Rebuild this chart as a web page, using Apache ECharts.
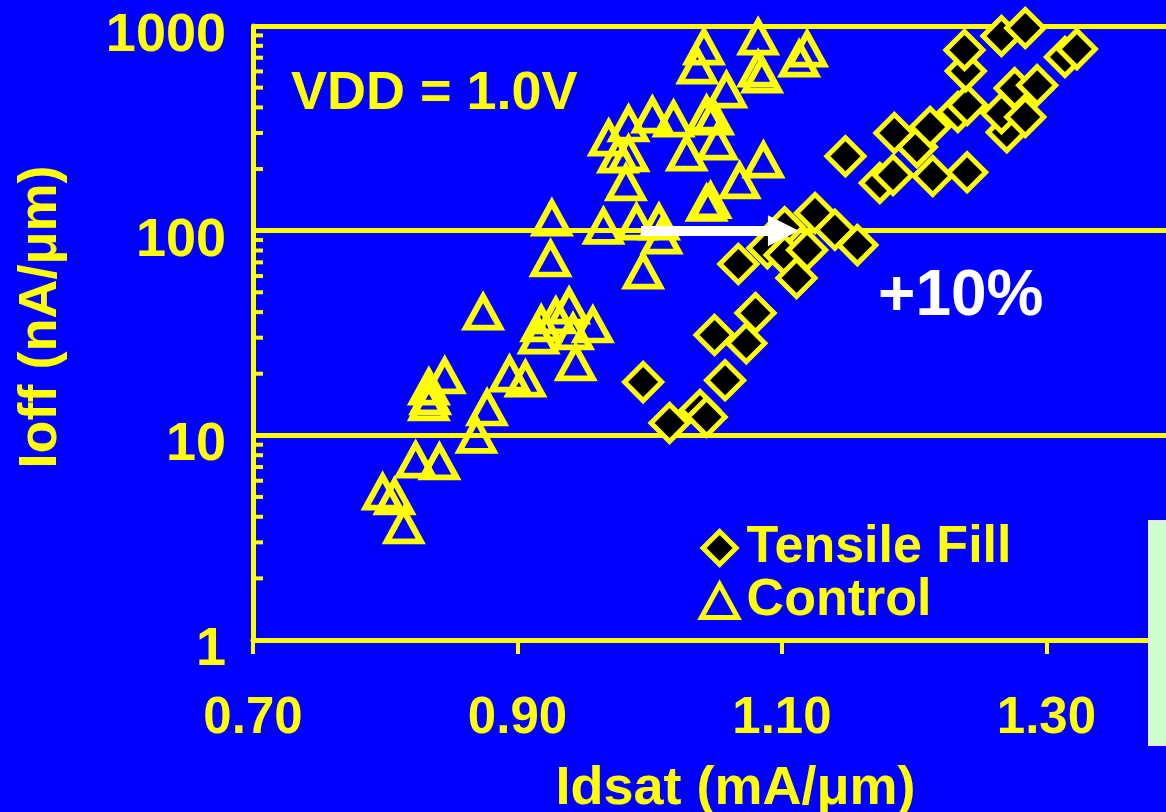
<!DOCTYPE html>
<html>
<head>
<meta charset="utf-8">
<script src="https://cdn.jsdelivr.net/npm/echarts@6/dist/echarts.min.js"></script>
<style>
  html, body { margin: 0; padding: 0; background: #0000ff; }
  #chart { width: 1166px; height: 812px; }
</style>
</head>
<body>
<div id="chart"></div>
<script>
// Tensile Fill (diamonds) - Idsat (mA/um), Ioff (nA/um)
var tensileX = [0.995, 1.015, 1.038, 1.043, 1.057, 1.049, 1.073, 1.080, 1.067, 1.089,
                1.102, 1.102, 1.119, 1.111, 1.125, 1.140, 1.157, 1.148, 1.174, 1.184,
                1.202, 1.185, 1.212, 1.214, 1.240, 1.233, 1.240, 1.270, 1.266, 1.284,
                1.276, 1.293, 1.239, 1.238, 1.266, 1.284, 1.314, 1.323];
var tensileY = [18.2, 11.5, 13.3, 12.3, 18.6, 30.9, 28.2, 39.6, 68.7, 82.2,
                104, 76, 80.4, 58.7, 122, 101, 85, 231, 171, 187,
                256, 300, 321, 185, 193, 380, 411, 303, 375, 359,
                497, 514, 602, 763, 893, 977, 705, 771];

// Control (triangles)
var controlX = [0.874, 0.944, 0.894, 0.906, 0.845, 0.833, 0.834, 0.833, 0.877, 0.869,
                0.823, 0.841, 0.798, 0.807, 0.814, 0.939, 0.929, 0.918, 0.957, 0.916,
                0.942, 1.041, 1.082, 1.119, 1.113, 1.082, 1.085, 1.036, 1.058, 0.969,
                0.984, 1.002, 1.018, 1.048, 1.043, 0.976, 0.984, 1.028, 1.051, 1.086,
                0.982, 1.068, 1.046, 1.043, 0.926, 0.965, 0.990, 1.007, 1.009, 0.925,
                0.995];
var controlY = [40.0, 22.6, 19.9, 18.8, 19.5, 17.2, 15.4, 14.4, 13.6, 10.0,
                7.57, 7.41, 5.28, 5.00, 3.61, 42.8, 38.3, 35.0, 34.6, 30.5,
                32.0, 789, 883, 771, 689, 616, 576, 637, 486, 283,
                332, 367, 351, 359, 371, 234, 237, 239, 271, 221,
                171, 175, 140, 136, 115, 105, 110, 110, 94, 72.7,
                63.5];

var xTicks = [0.70, 0.90, 1.10, 1.30];
var yMinorTicks = [2, 3, 4, 5, 6, 7, 8, 9, 20, 30, 40, 50, 60, 70, 80, 90, 200, 300, 400, 500, 600, 700, 800, 900];
var arrowFrom = [0.9934, 100];
var arrowTo = [1.1011, 100];

var YELLOW = '#ffff00';
var FONT = '"Liberation Sans", Arial, sans-serif';

function zip(xs, ys) {
  var out = [];
  for (var i = 0; i < xs.length; i++) out.push([xs[i], ys[i]]);
  return out;
}

var chart = echarts.init(document.getElementById('chart'));
chart.setOption({
  backgroundColor: '#0000ff',
  animation: false,
  textStyle: { fontFamily: FONT },
  // plot runs off the right edge of the picture
  grid: { left: 253, top: 26, right: 0, height: 614, outerBoundsMode: 'none', containLabel: false },
  xAxis: {
    type: 'value',
    min: 0.7,
    max: 1.3904,
    name: 'Idsat (mA/\u03bcm)',
    nameLocation: 'middle',
    nameGap: 122,
    nameTextStyle: { color: YELLOW, fontSize: 54, fontWeight: 'bold', fontFamily: FONT, padding: [0, 0, 0, 52] },
    axisLine: { show: true, lineStyle: { color: YELLOW, width: 5 } },
    axisTick: { show: true, customValues: xTicks, length: 14, lineStyle: { color: YELLOW, width: 4 } },
    axisLabel: {
      customValues: xTicks,
      margin: 53,
      color: YELLOW, fontSize: 51, fontWeight: 'bold', fontFamily: FONT,
      formatter: function (v) { return v.toFixed(2); }
    },
    splitLine: { show: false }
  },
  yAxis: {
    type: 'log',
    logBase: 10,
    min: 1,
    max: 1000,
    name: 'Ioff (nA/\u03bcm)',
    nameLocation: 'middle',
    nameGap: 185,
    nameTextStyle: { color: YELLOW, fontSize: 54, fontWeight: 'bold', fontFamily: FONT, padding: [0, 0, 0, 32] },
    axisLine: { show: true, lineStyle: { color: YELLOW, width: 5 } },
    axisTick: { show: false },
    axisLabel: {
      margin: 27,
      verticalAlign: 'top',
      lineHeight: 20,
      color: YELLOW, fontSize: 54, fontWeight: 'bold', fontFamily: FONT,
      formatter: function (v) { return String(Math.round(v)); }
    },
    splitLine: { show: true, lineStyle: { color: YELLOW, width: 5 } }
  },
  legend: {
    data: [
      {
        name: 'Tensile Fill',
        icon: 'path://M0,-1L1,0L0,1L-1,0Z',
        itemStyle: { color: '#000000', borderColor: YELLOW, borderWidth: 5 }
      },
      {
        name: 'Control',
        icon: 'path://M0,0L17,31L-17,31Z',
        itemStyle: { color: 'rgba(0,0,0,0)', borderColor: YELLOW, borderWidth: 5 }
      }
    ],
    orient: 'vertical',
    left: 694,
    top: 517,
    itemWidth: 44,
    itemHeight: 33,
    itemGap: 1,
    symbolKeepAspect: true,
    selectedMode: false,
    textStyle: { color: YELLOW, fontSize: 52, fontWeight: 'bold', fontFamily: FONT }
  },
  graphic: [
    {
      type: 'text', left: 291, top: 67,
      style: { text: 'VDD = 1.0V', fill: YELLOW, font: 'bold 54px ' + FONT }
    },
    {
      type: 'text', left: 878, top: 265,
      style: { text: '+10%', fill: '#ffffff', font: 'bold 64px ' + FONT }
    },
    {
      type: 'rect', left: 1148, top: 520, z: 100,
      shape: { width: 40, height: 224 },
      style: { fill: '#ccffcc', stroke: '#e8e8ff', lineWidth: 2 }
    }
  ],
  series: [
    {
      // inner minor ticks of the log axis
      type: 'custom',
      silent: true,
      data: yMinorTicks.map(function (v) { return [0.7, v]; }),
      renderItem: function (params, api) {
        var p = api.coord([api.value(0), api.value(1)]);
        return {
          type: 'line',
          shape: { x1: p[0], y1: p[1], x2: p[0] + 10, y2: p[1] },
          style: { stroke: YELLOW, lineWidth: 4 }
        };
      },
      z: 3
    },
    {
      name: 'Tensile Fill',
      type: 'scatter',
      clip: false,
      symbol: 'diamond',
      symbolSize: 37,
      itemStyle: { color: '#000000', borderColor: YELLOW, borderWidth: 5, opacity: 1 },
      data: zip(tensileX, tensileY),
      z: 4
    },
    {
      name: 'Control',
      type: 'scatter',
      clip: false,
      symbol: 'triangle',
      symbolSize: [34, 31],
      itemStyle: { color: 'rgba(0,0,0,0)', borderColor: YELLOW, borderWidth: 6, opacity: 1 },
      data: zip(controlX, controlY),
      z: 5
    },
    {
      type: 'line',
      data: [],
      z: 20,
      markLine: {
        silent: true,
        z: 20,
        symbol: ['none', 'triangle'],
        symbolSize: [31, 31],
        label: { show: false },
        lineStyle: { color: '#ffffff', width: 10, type: 'solid', opacity: 1 },
        data: [[{ coord: arrowFrom }, { coord: arrowTo }]]
      }
    }
  ]
});
</script>
</body>
</html>
